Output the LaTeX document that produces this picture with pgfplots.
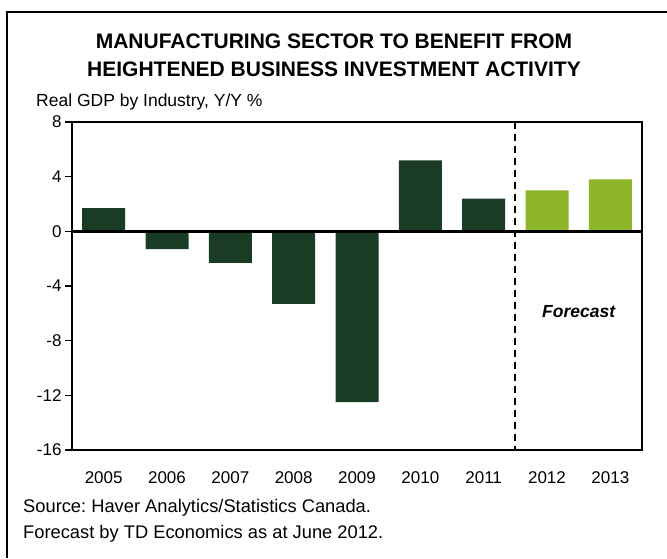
\documentclass[border=0pt]{standalone}
\usepackage{pgfplots}
\pgfplotsset{compat=1.18}
\usepackage{fontspec}
\setmainfont{Liberation Sans}
\definecolor{dkgreen}{HTML}{1A3C24}
\definecolor{ltgreen}{HTML}{8DB62A}
\begin{document}
\frenchspacing
\begin{tikzpicture}[x=1pt,y=1pt]
\useasboundingbox (0,0) rectangle (667,558);
\draw[line width=2.5pt] (7,0) -- (7,546) -- (667,546);
\node[font=\fontsize{21}{24}\selectfont\bfseries] at (334,517) {MANUFACTURING SECTOR TO BENEFIT FROM};
\node[font=\fontsize{21}{24}\selectfont\bfseries] at (334,489) {HEIGHTENED BUSINESS INVESTMENT ACTIVITY};
\node[font=\fontsize{17.5}{20}\selectfont, anchor=west, inner sep=0pt] at (36,456) {Real GDP by Industry, Y/Y \%};
\node[font=\fontsize{18.3}{21}\selectfont, anchor=west, inner sep=0pt] at (23,50) {Source: Haver Analytics/Statistics Canada.};
\node[font=\fontsize{18.3}{21}\selectfont, anchor=west, inner sep=0pt] at (23,24) {Forecast by TD Economics as at June 2012.};
\begin{axis}[
  at={(72pt,108pt)}, anchor=south west,
  width=570pt, height=328pt, scale only axis,
  ymin=-16, ymax=8, ytick={-16,-12,-8,-4,0,4,8},
  xmin=-0.5, xmax=8.5, xtick={0,1,2,3,4,5,6,7,8},
  xticklabels={2005,2006,2007,2008,2009,2010,2011,2012,2013},
  xtick style={draw=none},
  ytick pos=left, tick align=outside, major tick length=7pt,
  ytick style={line width=1.5pt, black},
  axis line style={line width=2.5pt},
  ticklabel style={font=\fontsize{17}{20}\selectfont},
  xticklabel style={yshift=-11pt},
  /pgf/number format/assume math mode=true,
  ybar, bar width=43pt,
  clip=false,
]
\addplot[ybar, fill=dkgreen, draw=none, bar shift=0pt] coordinates {(0,1.7)(1,-1.3)(2,-2.3)(3,-5.3)(4,-12.5)(5,5.2)(6,2.4)};
\addplot[ybar, fill=ltgreen, draw=none, bar shift=0pt] coordinates {(7,3.0)(8,3.8)};
\draw[line width=2.5pt] (axis cs:-0.5,0) -- (axis cs:8.5,0);
\draw[line width=2pt, dash pattern=on 7pt off 5pt] (axis cs:6.5,8) -- (axis cs:6.5,-16);
\node[font=\fontsize{17.5}{20}\selectfont\bfseries\itshape] at (axis cs:7.5,-5.9) {Forecast};
\end{axis}
\end{tikzpicture}
\end{document}
